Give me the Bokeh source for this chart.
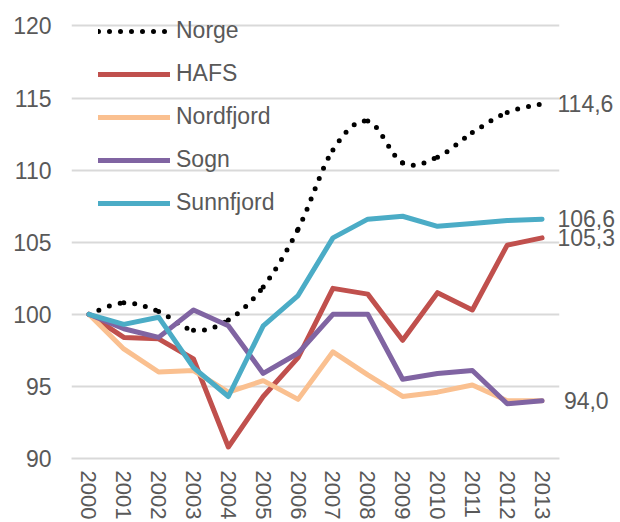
import math
from bokeh.plotting import figure
from bokeh.models import (Range1d, FixedTicker, Legend, LegendItem, ColumnDataSource,
                          LinearAxis)
from bokeh.embed import file_html
from bokeh.resources import INLINE

# ---- data ----
years = ["2000", "2001", "2002", "2003", "2004", "2005", "2006",
         "2007", "2008", "2009", "2010", "2011", "2012", "2013"]
norge = [100.0, 100.8, 100.2, 98.9, 99.6, 101.9, 105.9, 111.4, 113.4, 110.5, 110.9, 112.6, 114.0, 114.6]
hafs = [100.0, 98.4, 98.3, 96.9, 90.8, 94.3, 97.0, 101.8, 101.4, 98.2, 101.5, 100.3, 104.8, 105.3]
nordfjord = [100.0, 97.6, 96.0, 96.1, 94.6, 95.4, 94.1, 97.4, 95.8, 94.3, 94.6, 95.1, 94.0, 94.0]
sogn = [100.0, 99.0, 98.4, 100.3, 99.2, 95.9, 97.3, 100.0, 100.0, 95.5, 95.9, 96.1, 93.8, 94.0]
sunnfjord = [100.0, 99.3, 99.8, 96.3, 94.3, 99.2, 101.3, 105.3, 106.6, 106.8, 106.1, 106.3, 106.5, 106.6]
y_ticks = [90, 95, 100, 105, 110, 115, 120]
series_names = ["Norge", "HAFS", "Nordfjord", "Sogn", "Sunnfjord"]
labelled = ["Norge", "Sunnfjord", "HAFS", "Sogn"]

# ---- styles ----
colors = {"HAFS": "#C0504D", "Nordfjord": "#FAC090", "Sogn": "#8064A2", "Sunnfjord": "#4BACC6"}
label_pad = {"Norge": "", "Sunnfjord": "", "HAFS": "", "Sogn": "\u00a0"}
FONT = "Liberation Sans"
TXT = "#595959"
GRID = "#D9D9D9"
DOTS = dict(line_color="black", line_width=5, line_dash="0 11", line_cap="round")

data = {"Norge": norge, "HAFS": hafs, "Nordfjord": nordfjord, "Sogn": sogn, "Sunnfjord": sunnfjord}
xs = list(range(len(years)))

p = figure(width=620, height=522, output_backend="svg", toolbar_location=None,
           x_range=Range1d(-0.5, len(years) - 0.5), y_range=Range1d(90, 121),
           min_border_left=71, min_border_right=61, min_border_top=11, min_border_bottom=64)
p.outline_line_color = None
p.background_fill_color = "white"

# axes
p.xaxis.ticker = FixedTicker(ticks=xs)
p.xaxis.major_label_overrides = {i: y for i, y in enumerate(years)}
p.xaxis.major_label_orientation = -math.pi / 2
p.xaxis.axis_line_color = GRID
p.xaxis.axis_line_width = 2
p.xaxis.major_tick_line_color = None
p.xaxis.minor_tick_line_color = None
p.xaxis.major_tick_out = 0
p.xaxis.major_tick_in = 0
p.xaxis.major_label_standoff = 12
p.xaxis.major_label_text_font_size = "22px"
p.xaxis.major_label_text_font = FONT
p.xaxis.major_label_text_color = TXT

p.yaxis.ticker = FixedTicker(ticks=y_ticks)
p.yaxis.axis_line_color = None
p.yaxis.major_tick_line_color = None
p.yaxis.minor_tick_line_color = None
p.yaxis.major_tick_out = 0
p.yaxis.major_tick_in = 0
p.yaxis.major_label_standoff = 20
p.yaxis.major_label_text_font_size = "23px"
p.yaxis.major_label_text_font = FONT
p.yaxis.major_label_text_color = TXT

p.xgrid.grid_line_color = None
p.ygrid.grid_line_color = GRID
p.ygrid.grid_line_width = 2

renderers = {}

# Norge: smoothed dotted curve (Catmull-Rom bezier through the data points)
v = norge
n = len(v)
def at(i):
    return max(0, min(n - 1, i))
bz = dict(x0=[], y0=[], x1=[], y1=[], cx0=[], cy0=[], cx1=[], cy1=[])
for i in range(n - 1):
    bz["x0"].append(xs[i]); bz["y0"].append(v[i])
    bz["x1"].append(xs[i + 1]); bz["y1"].append(v[i + 1])
    bz["cx0"].append(xs[i] + (xs[at(i + 1)] - xs[at(i - 1)]) / 6)
    bz["cy0"].append(v[i] + (v[at(i + 1)] - v[at(i - 1)]) / 6)
    bz["cx1"].append(xs[i + 1] - (xs[at(i + 2)] - xs[at(i)]) / 6)
    bz["cy1"].append(v[i + 1] - (v[at(i + 2)] - v[at(i)]) / 6)
p.bezier(x0="x0", y0="y0", x1="x1", y1="y1", cx0="cx0", cy0="cy0",
         cx1="cx1", cy1="cy1", source=ColumnDataSource(bz), **DOTS)

# legend proxy for Norge: same dotted style, shown only in the legend (muted in plot)
norge_line = p.line(xs, norge, muted_alpha=0, **DOTS)
norge_line.muted = True
renderers["Norge"] = norge_line

for name in ["HAFS", "Nordfjord", "Sogn", "Sunnfjord"]:
    renderers[name] = p.line(xs, data[name], line_color=colors[name], line_width=5,
                             line_join="round", line_cap="round")

# end-of-line value labels, placed by the y scale on a right-hand axis
end_vals = [data[nm][-1] for nm in labelled]
end_axis = LinearAxis(
    ticker=FixedTicker(ticks=end_vals),
    major_label_overrides={data[nm][-1]: label_pad[nm] + f"{data[nm][-1]:.1f}".replace(".", ",")
                           for nm in labelled},
    axis_line_color=None, major_tick_line_color=None, minor_tick_line_color=None,
    major_tick_out=0, major_tick_in=0, major_label_standoff=-2,
    major_label_text_font=FONT, major_label_text_font_size="23px",
    major_label_text_color=TXT)
p.add_layout(end_axis, "right")

legend = Legend(items=[LegendItem(label=nm, renderers=[renderers[nm]]) for nm in series_names],
                location=(27, 242), orientation="vertical", click_policy="none",
                glyph_width=72, glyph_height=20, label_height=20, spacing=16,
                label_standoff=6, padding=0, margin=0,
                background_fill_alpha=0, border_line_color=None,
                label_text_font=FONT, label_text_font_size="23px", label_text_color=TXT)
p.add_layout(legend)

open("out.html", "w").write(file_html(p, INLINE))
